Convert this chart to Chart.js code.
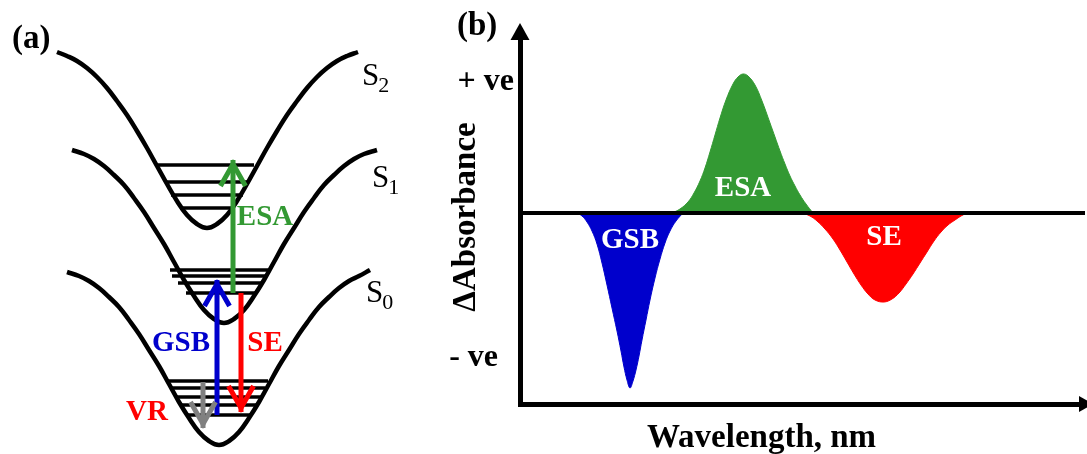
<!DOCTYPE html>
<html>
<head>
<meta charset="utf-8">
<script src="https://cdn.jsdelivr.net/npm/chart.js@4.4.1/dist/chart.umd.min.js"></script>
<style>
  html, body { margin: 0; padding: 0; background: #ffffff; }
  #wrap { position: relative; width: 1087px; height: 454px; overflow: hidden; background: #ffffff; }
  #diagram { position: absolute; left: 0; top: 0; }
  #spectrum { position: absolute; left: 438px; top: 0; }
</style>
</head>
<body>
<div id="wrap">
  <canvas id="diagram" width="438" height="454"></canvas>
  <canvas id="spectrum" width="649" height="454"></canvas>
</div>
<script>
// ---------- (a) energy-level diagram ----------
// potential wells: nuclear coordinate (q) and energy (E)
const wellS2Q = [57,67,77,87,97,107,117,127,137,147,157,167,177,187,197,207,217,227,237,247,257,267,277,287,297,307,317,327,337,347,358];
const wellS2E = [402,398,393,386,377,366,353,339,323,306,288,270,253,239,230,226,230,239,253,270,288,306,323,339,353,366,377,386,393,398,402];
const wellS1Q = [72,84,94,104,114,124,134,144,154,164,174,184,194,204,214,224,234,244,254,264,274,284,294,304,314,324,334,344,354,364,377];
const wellS1E = [304,300,295,288,279,269,256,242,226,210,192,174,158,144,135,131,135,144,158,174,192,210,226,242,256,269,279,288,295,300,304];
const wellS0Q = [67,79,89,99,109,119,129,139,149,159,169,179,189,199,209,219,229,239,249,259,269,279,289,299,309,319,329,339,349,359,370];
const wellS0E = [182,178,173,166,157,147,134,120,104,88,70,52,36,22,13,9,13,22,36,52,70,88,104,120,134,147,157,166,173,178,184];

// vibrational levels: [energy, q left, q right]
const levelsS2 = [[289,158,254],[272,165,248],[259,171,243],[246,180,235]];
const levelsS1 = [[184,170,268],[178,172,266],[171,178,262],[161,186,255]];
const levelsS0 = [[73,168,268],[66,172,265],[57,176,261],[49,181,257],[39,187,251]];

// transitions
const transitionNames = ['ESA', 'GSB', 'SE', 'VR'];
const transitionQ     = [233, 217, 241, 203];
const transitionFrom  = [161, 39, 161, 72];
const transitionTo    = [294, 174, 42, 26];

// ---------- (b) transient absorption spectrum ----------
const wlGSB   = [57,62,67,72,77,82,87,92,97,101,104,107,110,113,116,119,122,126,130,135,140,145,150,156,163];
const dAbsGSB = [0,-0.03,-0.09,-0.18,-0.31,-0.50,-0.72,-0.95,-1.18,-1.38,-1.54,-1.67,-1.75,-1.68,-1.57,-1.43,-1.27,-1.07,-0.87,-0.65,-0.46,-0.30,-0.18,-0.08,0];
const wlESA   = [152,160,168,174,180,185,190,195,200,206,213,218,223,228,235,242,250,255,260,265,270,275,280,286,293];
const dAbsESA = [0,0.04,0.11,0.20,0.32,0.45,0.61,0.78,0.95,1.13,1.29,1.36,1.39,1.37,1.28,1.12,0.90,0.76,0.62,0.49,0.37,0.27,0.18,0.09,0];
const wlSE    = [282,290,297,305,313,320,327,334,341,348,355,364,372,379,386,393,400,407,414,421,428,435,441,447];
const dAbsSE  = [0,-0.03,-0.08,-0.16,-0.26,-0.37,-0.49,-0.61,-0.72,-0.81,-0.87,-0.89,-0.86,-0.80,-0.71,-0.61,-0.50,-0.39,-0.28,-0.19,-0.12,-0.07,-0.03,0];
const wlRange   = [0, 565];
const yTickValues = [1.31, -1.45];
const yTickLabels = ['+ ve', '- ve\u2002'];

// ---------- styles ----------
const SERIF = "'Liberation Serif', 'Times New Roman', serif";
const GREEN = '#339933', BLUE = '#0000CC', RED = '#FF0000', GREY = '#808080';
const transitionColors = [GREEN, BLUE, RED, GREY];

function pairs(xs, ys) { return xs.map((x, i) => ({ x: x, y: ys[i] })); }

// ----- diagram datasets -----
const diagramSets = [];
transitionNames.forEach((name, i) => {
  diagramSets.push({
    label: name,
    data: [{ x: transitionQ[i], y: transitionFrom[i] }, { x: transitionQ[i], y: transitionTo[i] }],
    borderColor: transitionColors[i], borderWidth: 5, borderCapStyle: 'butt',
    pointRadius: 0, arrow: true, order: 0
  });
});
[[wellS2Q, wellS2E], [wellS1Q, wellS1E], [wellS0Q, wellS0E]].forEach(([q, e], i) => {
  diagramSets.push({
    label: 'S' + (2 - i),
    data: pairs(q, e),
    borderColor: '#000', borderWidth: 4.5, pointRadius: 0,
    tension: 0.45, borderJoinStyle: 'round', order: 1
  });
});
[levelsS2, levelsS1, levelsS0].forEach(levels => {
  levels.forEach(([e, q1, q2]) => {
    diagramSets.push({
      label: 'level',
      data: [{ x: q1, y: e }, { x: q2, y: e }],
      borderColor: '#000', borderWidth: 3.5, borderCapStyle: 'butt',
      pointRadius: 0, order: 2
    });
  });
});

// chevron arrow heads on the transition lines
const arrowHeads = {
  id: 'arrowHeads',
  afterDatasetsDraw(chart) {
    const ctx = chart.ctx;
    chart.data.datasets.forEach((ds, i) => {
      if (!ds.arrow) return;
      const p = chart.getDatasetMeta(i).data;
      const a = p[p.length - 2], b = p[p.length - 1];
      const ang = Math.atan2(b.y - a.y, b.x - a.x);
      const c = Math.cos(ang), s = Math.sin(ang);
      const tx = b.x - 4 * c, ty = b.y - 4 * s;
      const L = 22, W = 12.5;
      ctx.save();
      ctx.strokeStyle = ds.borderColor;
      ctx.lineWidth = 5;
      ctx.lineJoin = 'miter';
      ctx.lineCap = 'butt';
      ctx.beginPath();
      ctx.moveTo(tx - L * c + W * s, ty - L * s - W * c);
      ctx.lineTo(tx, ty);
      ctx.lineTo(tx - L * c - W * s, ty - L * s + W * c);
      ctx.stroke();
      ctx.restore();
    });
  }
};

// text of the diagram
const diagramText = {
  id: 'diagramText',
  afterDraw(chart) {
    const ctx = chart.ctx, xs = chart.scales.x, ys = chart.scales.y;
    ctx.save();
    ctx.textBaseline = 'alphabetic';
    ctx.textAlign = 'left';
    ctx.fillStyle = '#000';
    ctx.font = 'bold 33px ' + SERIF;
    ctx.fillText('(a)', xs.getPixelForValue(12), ys.getPixelForValue(406));

    // state names with subscripts
    const states = [['2', 362, 369], ['1', 372, 267], ['0', 366, 152]];
    states.forEach(([sub, q, e]) => {
      const x = xs.getPixelForValue(q), y = ys.getPixelForValue(e);
      ctx.font = '31px ' + SERIF;
      ctx.fillText('S', x, y);
      const w = ctx.measureText('S').width;
      ctx.font = '22px ' + SERIF;
      ctx.fillText(sub, x + w - 1, y + 7);
    });

    // transition names
    const tags = [['ESA', 265, 236], ['GSB', 181, 110], ['SE', 265, 110], ['VR', 147, 41]];
    const tagColors = [GREEN, BLUE, RED, RED];
    ctx.font = 'bold 29px ' + SERIF;
    ctx.textAlign = 'center';
    ctx.textBaseline = 'middle';
    tags.forEach(([t, q, e], i) => {
      ctx.fillStyle = tagColors[i];
      ctx.fillText(t, xs.getPixelForValue(q), ys.getPixelForValue(e));
    });
    ctx.restore();
  }
};

new Chart(document.getElementById('diagram'), {
  type: 'line',
  data: { datasets: diagramSets },
  options: {
    responsive: false, animation: false, events: [],
    layout: { padding: 0 },
    plugins: { legend: { display: false }, tooltip: { enabled: false } },
    scales: {
      x: { type: 'linear', min: 0, max: 438, display: false },
      y: { type: 'linear', min: 0, max: 454, display: false }
    },
    datasets: { line: { clip: false } }
  },
  plugins: [arrowHeads, diagramText]
});

// ----- spectrum -----
const bandTags = [['GSB', wlGSB, dAbsGSB, 28], ['ESA', wlESA, dAbsESA, -24], ['SE', wlSE, dAbsSE, 25]];

const axisArrows = {
  id: 'axisArrows',
  afterDraw(chart) {
    const ctx = chart.ctx, a = chart.chartArea;
    const xs = chart.scales.x, ys = chart.scales.y;
    ctx.save();
    ctx.fillStyle = '#000';
    // vertical axis head
    ctx.beginPath();
    ctx.moveTo(a.left, a.top - 7);
    ctx.lineTo(a.left - 9.5, a.top + 10);
    ctx.lineTo(a.left + 9.5, a.top + 10);
    ctx.closePath();
    ctx.fill();
    // horizontal axis head
    ctx.beginPath();
    ctx.moveTo(a.right + 8, a.bottom);
    ctx.lineTo(a.right - 6, a.bottom - 8);
    ctx.lineTo(a.right - 6, a.bottom + 8);
    ctx.closePath();
    ctx.fill();

    // panel tag
    ctx.font = 'bold 33px ' + SERIF;
    ctx.textAlign = 'left';
    ctx.textBaseline = 'alphabetic';
    ctx.fillText('(b)', a.left - 63, 35);

    // band names inside the filled areas
    ctx.font = 'bold 29px ' + SERIF;
    ctx.textAlign = 'center';
    ctx.textBaseline = 'middle';
    ctx.fillStyle = '#ffffff';
    const zero = ys.getPixelForValue(0);
    bandTags.forEach(([t, wl, v, off]) => {
      let k = 0;
      v.forEach((d, i) => { if (Math.abs(d) > Math.abs(v[k])) k = i; });
      ctx.fillText(t, xs.getPixelForValue(wl[k]), zero + off);
    });
    ctx.restore();
  }
};

new Chart(document.getElementById('spectrum'), {
  type: 'line',
  data: {
    datasets: [
      { label: 'baseline', data: pairs(wlRange, [0, 0]), borderColor: '#000', borderWidth: 4,
        borderCapStyle: 'butt', pointRadius: 0, fill: false, order: -1 },
      { label: 'GSB', data: pairs(wlGSB, dAbsGSB), borderColor: BLUE, backgroundColor: BLUE,
        borderWidth: 1, pointRadius: 0, fill: 'origin', tension: 0.4 },
      { label: 'ESA', data: pairs(wlESA, dAbsESA), borderColor: GREEN, backgroundColor: GREEN,
        borderWidth: 1, pointRadius: 0, fill: 'origin', tension: 0.4 },
      { label: 'SE', data: pairs(wlSE, dAbsSE), borderColor: RED, backgroundColor: RED,
        borderWidth: 1, pointRadius: 0, fill: 'origin', tension: 0.4 }
    ]
  },
  options: {
    responsive: false, animation: false, events: [],
    layout: { padding: { top: 30, right: 2, left: 0, bottom: 0 } },
    plugins: {
      legend: { display: false }, tooltip: { enabled: false },
      title: {
        display: true, text: 'Wavelength, nm', position: 'bottom', align: 'center',
        color: '#000', font: { family: SERIF, size: 33, weight: 'bold' },
        padding: { top: 4, bottom: -4 }
      }
    },
    scales: {
      x: {
        type: 'linear', min: wlRange[0], max: wlRange[1], position: 'bottom',
        grid: { display: false, drawTicks: false },
        border: { display: true, color: '#000', width: 5 },
        ticks: { display: false },
        afterFit: s => { s.height = 10.4; }
      },
      y: {
        type: 'linear', min: -1.91, max: 1.83, position: 'left',
        grid: { display: false, drawTicks: false },
        border: { display: true, color: '#000', width: 5 },
        afterBuildTicks: s => { s.ticks = yTickValues.map(v => ({ value: v })); },
        ticks: {
          autoSkip: false, padding: 6, color: '#000',
          font: { family: SERIF, size: 32, weight: 'bold' },
          callback: (v, i) => yTickLabels[i]
        },
        title: {
          display: true, text: '\u0394Absorbance', color: '#000',
          font: { family: SERIF, size: 33, weight: 'bold' },
          padding: { top: 9, bottom: 0 }
        },
        afterFit: s => { s.width = 82; }
      }
    }
  },
  plugins: [axisArrows]
});
</script>
</body>
</html>
